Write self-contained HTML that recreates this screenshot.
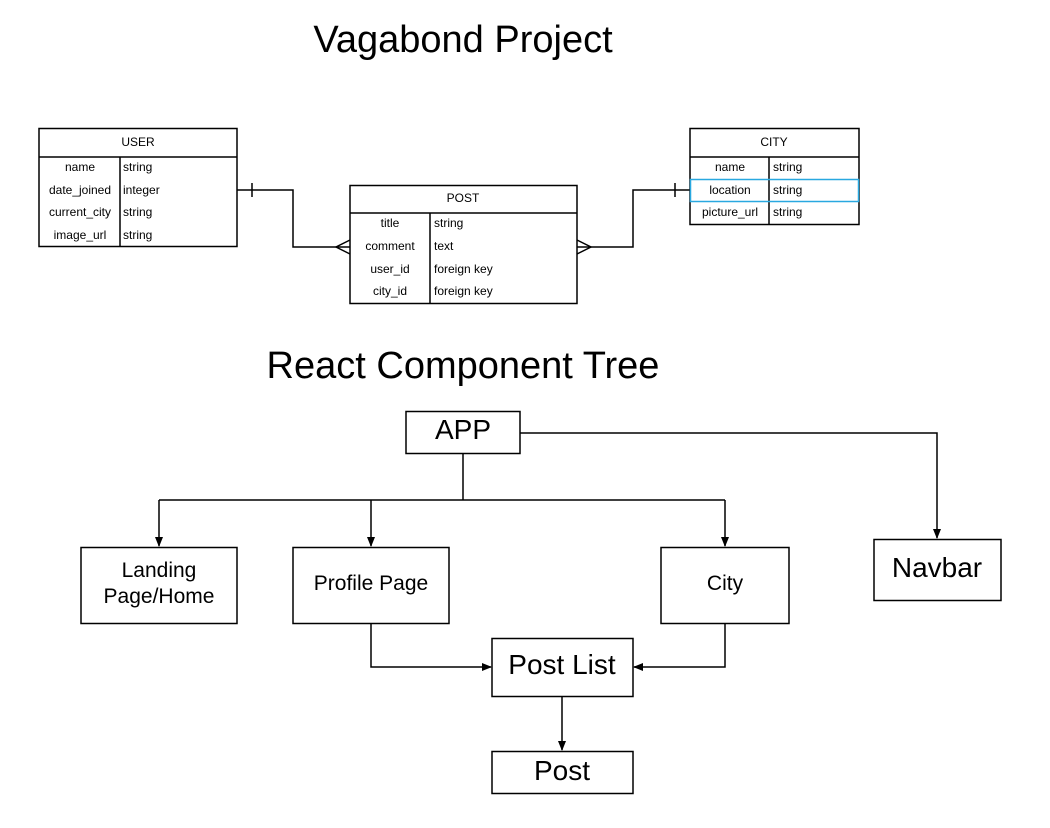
<!DOCTYPE html>
<html><head><meta charset="utf-8"><style>
html,body{margin:0;padding:0;background:#fff;}
svg{display:block;}
text{font-family:"Liberation Sans",Arial,sans-serif;fill:#000;}
</style></head><body>
<svg width="1050" height="828" viewBox="0 0 1050 828" xmlns="http://www.w3.org/2000/svg">
<defs>
<marker id="ar" markerWidth="10" markerHeight="10" refX="9" refY="5" orient="auto" markerUnits="userSpaceOnUse">
<path d="M0,1 L10,5 L0,9 z" fill="#000"/></marker>
</defs>
<g stroke="#000" stroke-width="1.5" fill="none">
<!-- USER -->
<rect x="39" y="128.5" width="198" height="118" fill="#fff"/>
<line x1="39" y1="157" x2="237" y2="157"/>
<line x1="120" y1="157" x2="120" y2="246.5"/>
<!-- POST -->
<rect x="350" y="185.5" width="227" height="118" fill="#fff"/>
<line x1="350" y1="213" x2="577" y2="213"/>
<line x1="430" y1="213" x2="430" y2="303.5"/>
<!-- CITY -->
<rect x="690" y="128.5" width="169" height="96" fill="#fff"/>
<line x1="690" y1="157" x2="859" y2="157"/>
<line x1="769" y1="157" x2="769" y2="224.5"/>
<!-- connectors -->
<polyline points="237,190 293,190 293,247 350,247"/>
<line x1="252" y1="183" x2="252" y2="197"/>
<polyline points="350,240 336,247 350,254"/>
<polyline points="577,247 633,247 633,190 690,190"/>
<line x1="675" y1="183" x2="675" y2="197"/>
<polyline points="577,240 591,247 577,254"/>
</g>
<rect x="690.5" y="179.5" width="168" height="22" fill="none" stroke="#29a8e0" stroke-width="1.5"/>
<g font-size="12">
<text x="138" y="146" text-anchor="middle">USER</text>
<text x="80" y="171" text-anchor="middle">name</text>
<text x="80" y="194" text-anchor="middle">date_joined</text>
<text x="80" y="216" text-anchor="middle">current_city</text>
<text x="80" y="239" text-anchor="middle">image_url</text>
<text x="123" y="171">string</text>
<text x="123" y="194">integer</text>
<text x="123" y="216">string</text>
<text x="123" y="239">string</text>
<text x="463" y="202" text-anchor="middle">POST</text>
<text x="390" y="227" text-anchor="middle">title</text>
<text x="390" y="250" text-anchor="middle">comment</text>
<text x="390" y="273" text-anchor="middle">user_id</text>
<text x="390" y="295" text-anchor="middle">city_id</text>
<text x="434" y="227">string</text>
<text x="434" y="250">text</text>
<text x="434" y="273">foreign key</text>
<text x="434" y="295">foreign key</text>
<text x="774" y="146" text-anchor="middle">CITY</text>
<text x="730" y="171" text-anchor="middle">name</text>
<text x="730" y="194" text-anchor="middle">location</text>
<text x="730" y="216" text-anchor="middle">picture_url</text>
<text x="773" y="171">string</text>
<text x="773" y="194">string</text>
<text x="773" y="216">string</text>
</g>
<text x="463" y="52" font-size="38" text-anchor="middle">Vagabond Project</text>
<text x="463" y="378" font-size="38" text-anchor="middle">React Component Tree</text>
<g stroke="#000" stroke-width="1.5" fill="none">
<rect x="406" y="411.5" width="114" height="42" fill="#fff"/>
<rect x="81" y="547.5" width="156" height="76"/>
<rect x="293" y="547.5" width="156" height="76"/>
<rect x="661" y="547.5" width="128" height="76"/>
<rect x="874" y="539.5" width="127" height="61"/>
<rect x="492" y="638.5" width="141" height="58"/>
<rect x="492" y="751.5" width="141" height="42"/>
<polyline points="520,433 937,433 937,538" marker-end="url(#ar)"/>
<line x1="463" y1="453" x2="463" y2="500"/>
<line x1="159" y1="500" x2="725" y2="500"/>
<line x1="159" y1="500" x2="159" y2="546" marker-end="url(#ar)"/>
<line x1="371" y1="500" x2="371" y2="546" marker-end="url(#ar)"/>
<line x1="725" y1="500" x2="725" y2="546" marker-end="url(#ar)"/>
<polyline points="371,624 371,667 491,667" marker-end="url(#ar)"/>
<polyline points="725,624 725,667 634,667" marker-end="url(#ar)"/>
<line x1="562" y1="697" x2="562" y2="750" marker-end="url(#ar)"/>
</g>
<g text-anchor="middle">
<text x="463" y="439" font-size="28">APP</text>
<text x="159" y="577" font-size="21">Landing</text>
<text x="159" y="603" font-size="21">Page/Home</text>
<text x="371" y="590" font-size="21">Profile Page</text>
<text x="725" y="590" font-size="21">City</text>
<text x="937" y="577" font-size="28">Navbar</text>
<text x="562" y="674" font-size="28">Post List</text>
<text x="562" y="780" font-size="28">Post</text>
</g>
</svg>
</body></html>
